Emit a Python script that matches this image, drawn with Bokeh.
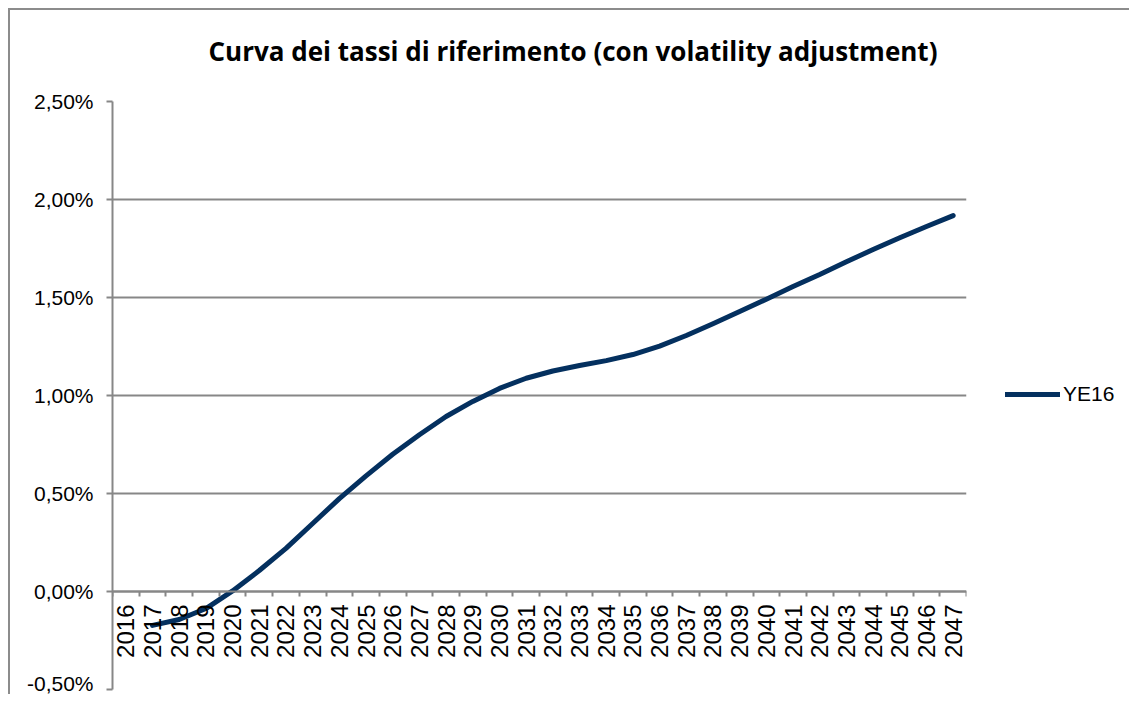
import math
from bokeh.plotting import figure
from bokeh.models import FixedTicker, Legend, LegendItem, ColumnDataSource
from bokeh.embed import file_html
from bokeh.resources import INLINE

# ---- data ----
years = list(range(2016, 2048))
ye16 = [float("nan"), -0.173, -0.143, -0.087, 0.003, 0.107, 0.220, 0.347, 0.474,
        0.590, 0.700, 0.800, 0.893, 0.970, 1.036, 1.088, 1.125, 1.153, 1.178,
        1.209, 1.252, 1.306, 1.366, 1.429, 1.491, 1.556, 1.617, 1.682, 1.745,
        1.805, 1.862, 1.918]
year_labels = [str(y) for y in years]
y_ticks = [-0.5, 0.0, 0.5, 1.0, 1.5, 2.0, 2.5]
y_tick_labels = ["-0,50%", "0,00%", "0,50%", "1,00%", "1,50%", "2,00%", "2,50%"]
series_name = "YE16"
title_text = "Curva dei tassi di riferimento (con volatility adjustment)"

GRID = "#878787"
LINE = "#04305f"
FONT = "Liberation Sans"

src = ColumnDataSource(dict(x=years, y=ye16))

p = figure(frame_width=854, frame_height=588,
           x_range=(years[0] - 0.5, years[-1] + 0.5), y_range=(y_ticks[0], y_ticks[-1]),
           output_backend="svg", toolbar_location=None,
           min_border_left=102, min_border_right=150, min_border_top=91, min_border_bottom=5,
           background_fill_color="white", border_fill_color="white")
p.styles = {"margin-left": "8px", "margin-top": "8px",
            "border-left": "2px solid #8c8c8c", "border-top": "2px solid #8c8c8c"}
p.outline_line_color = None

# title (an empty second line lifts the text above the plot area)
p.title.text = title_text + "\n "
p.title.text_font = "Open Sans"
p.title.text_font_style = "bold"
p.title.text_font_size = "26px"
p.title.align = "left"
p.title.offset = 96
p.title.standoff = -6
p.title.text_color = "black"

# x axis at y = 0
xa = p.xaxis[0]
xa.fixed_location = 0
xa.ticker = FixedTicker(ticks=years, minor_ticks=[y - 0.5 for y in years] + [years[-1] + 0.5])
xa.major_label_overrides = dict(zip(years, year_labels))
xa.major_label_orientation = math.pi / 2
xa.major_label_text_font = FONT
xa.major_label_text_font_size = "24px"
xa.major_label_text_color = "black"
xa.major_tick_line_color = None
xa.major_tick_in = 0
xa.major_tick_out = 5
xa.minor_tick_line_color = GRID
xa.minor_tick_line_width = 2
xa.minor_tick_in = 0
xa.minor_tick_out = 5
xa.major_label_standoff = 8
xa.axis_line_color = GRID
xa.axis_line_width = 2

# y axis
ya = p.yaxis[0]
ya.ticker = FixedTicker(ticks=y_ticks, minor_ticks=[])
ya.major_label_overrides = dict(zip(y_ticks, y_tick_labels))
ya.major_label_text_font = FONT
ya.major_label_text_font_size = "21px"
ya.major_label_text_color = "black"
ya.major_tick_line_color = GRID
ya.major_tick_line_width = 2
ya.major_tick_in = 0
ya.major_tick_out = 6
ya.minor_tick_line_color = None
ya.major_label_standoff = 13
ya.axis_line_color = GRID
ya.axis_line_width = 2

p.xgrid.grid_line_color = None
p.ygrid.ticker = FixedTicker(ticks=y_ticks)
p.ygrid.grid_line_color = GRID
p.ygrid.grid_line_width = 2

r = p.line("x", "y", source=src, line_color=LINE, line_width=5, line_cap="round", line_join="round")

legend = Legend(items=[LegendItem(label=series_name, renderers=[r])],
                location=(39, 283), glyph_width=55, glyph_height=20, label_height=20,
                label_standoff=3, padding=0, margin=0, spacing=0,
                border_line_color=None, background_fill_alpha=0,
                label_text_font=FONT, label_text_font_size="21px", label_text_color="black")
p.add_layout(legend, "right")

open("out.html", "w").write(file_html(p, INLINE))
